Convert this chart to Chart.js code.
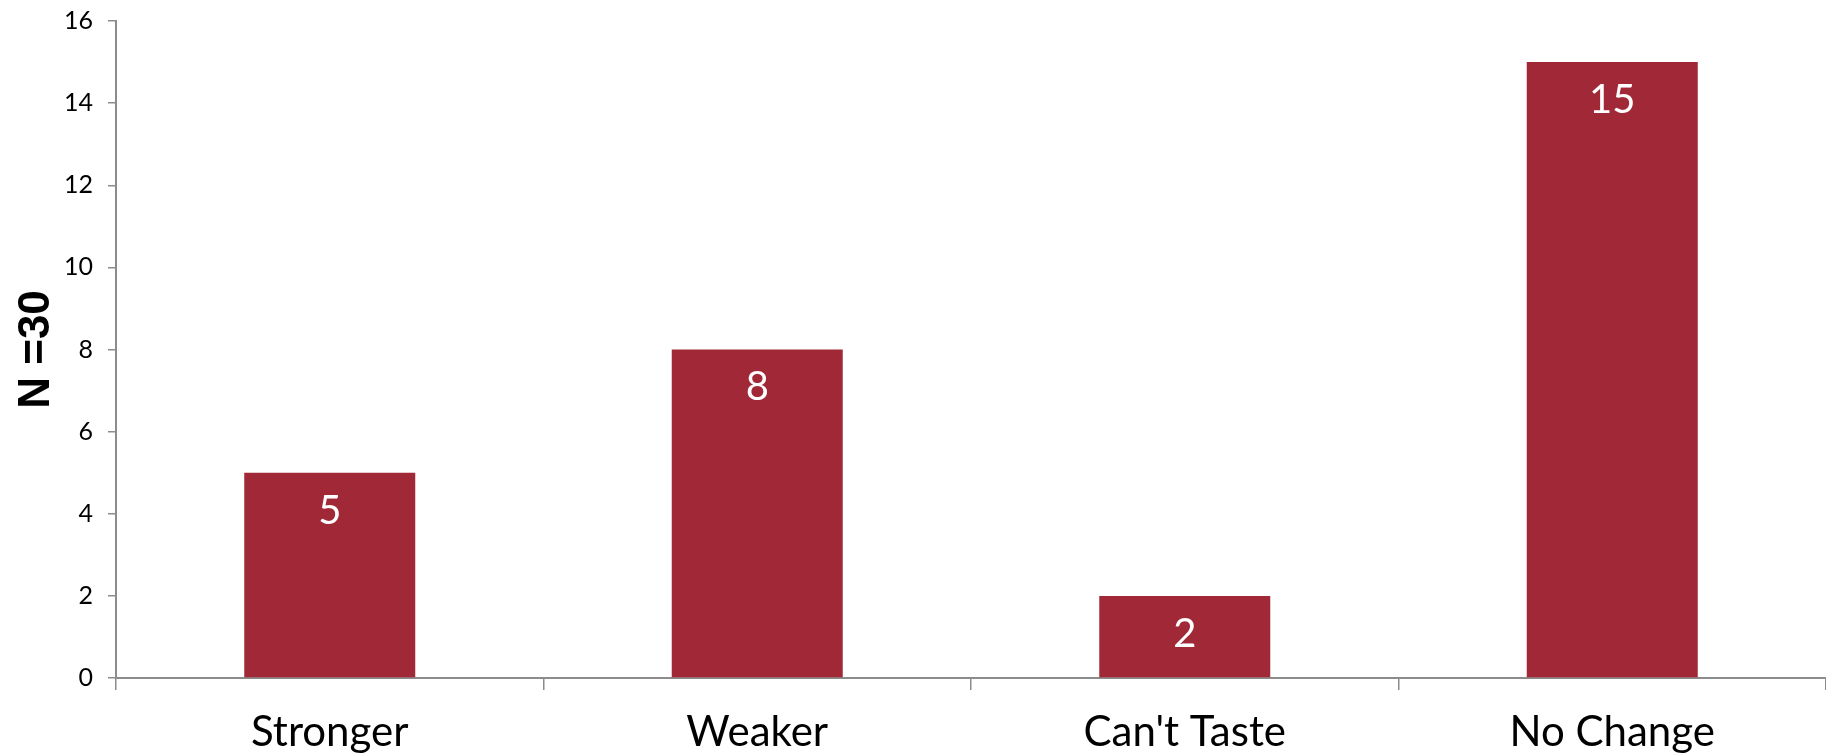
<!DOCTYPE html>
<html>
<head>
<meta charset="utf-8">
<title>Taste</title>
<script src="https://cdn.jsdelivr.net/npm/chart.js@4"></script>
<style>
  html, body { margin: 0; padding: 0; background: #fff; }
  #wrap { width: 1826px; height: 755px; }
</style>
</head>
<body>
<div id="wrap"><canvas id="grafica"></canvas></div>
<script>
// datos
const categorias = ["Stronger", "Weaker", "Can't Taste", "No Change"];
const valores = [5, 8, 2, 15];
const tituloEje = "N =30";

const colorBarra = "#a02837";
const colorEje = "#8c8c8c";
const fuente = "Lato, 'Open Sans', sans-serif";

// etiquetas blancas dentro de cada barra
const etiquetasBarras = {
    id: "etiquetasBarras",
    afterDatasetsDraw(chart) {
        const ctx = chart.ctx;
        const meta = chart.getDatasetMeta(0);
        ctx.save();
        ctx.fillStyle = "#ffffff";
        ctx.font = "40px " + fuente;
        ctx.textAlign = "center";
        ctx.textBaseline = "middle";
        meta.data.forEach((barra, i) => {
            ctx.fillText(String(valores[i]), barra.x, barra.y + 38);
        });
        ctx.restore();
    }
};

const config = {
    type: "bar",
    data: {
        labels: categorias,
        datasets: [{
            data: valores,
            backgroundColor: colorBarra,
            borderWidth: 0,
            barPercentage: 0.4,
            categoryPercentage: 1.0
        }]
    },
    options: {
        responsive: true,
        maintainAspectRatio: false,
        animation: false,
        layout: { padding: 0 },
        plugins: {
            legend: { display: false },
            tooltip: { enabled: false }
        },
        scales: {
            x: {
                afterFit: (s) => { s.height = 77; },
                border: { display: true, color: colorEje, width: 2 },
                grid: {
                    offset: true,
                    drawOnChartArea: false,
                    drawTicks: true,
                    tickLength: 12,
                    color: colorEje,
                    lineWidth: 1.5
                },
                ticks: {
                    color: "#000",
                    padding: 17,
                    font: { family: fuente, size: 42 }
                }
            },
            y: {
                min: 0,
                max: 16,
                afterFit: (s) => { s.width = 116; s.paddingTop = 21; },
                border: { display: true, color: colorEje, width: 2 },
                grid: {
                    drawOnChartArea: false,
                    drawTicks: true,
                    tickLength: 8,
                    color: colorEje,
                    lineWidth: 1.5
                },
                ticks: {
                    stepSize: 2,
                    color: "#000",
                    padding: 15,
                    font: { family: fuente, size: 25 }
                },
                title: {
                    display: true,
                    text: tituloEje,
                    color: "#000",
                    padding: { top: 10, bottom: 0 },
                    font: { family: "'Liberation Sans', Arial, sans-serif", size: 44, weight: "bold" }
                }
            }
        }
    },
    plugins: [etiquetasBarras]
};

new Chart(document.getElementById("grafica"), config);
</script>
</body>
</html>
